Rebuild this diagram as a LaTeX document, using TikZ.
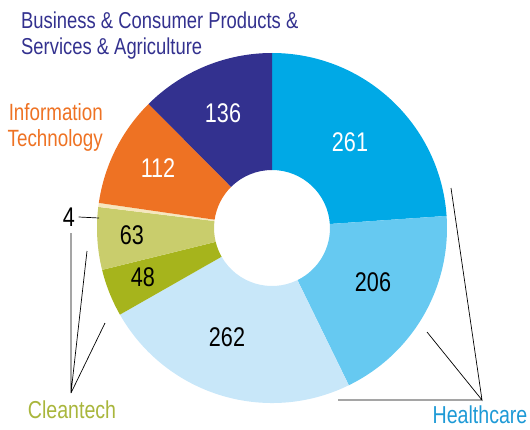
\documentclass[tikz,border=0pt]{standalone}
\usepackage{fontspec}
\setmainfont{Liberation Sans}[FakeStretch=0.8]
\usepackage{tikz}
\usetikzlibrary{positioning}
\definecolor{hcdark}{HTML}{00A9E6}
\definecolor{hcmid}{HTML}{66C9F1}
\definecolor{hclight}{HTML}{C8E7F9}
\definecolor{ctdark}{HTML}{A6B41C}
\definecolor{ctlight}{HTML}{C9CD6C}
\definecolor{ctpale}{HTML}{F6E7BF}
\definecolor{itorange}{HTML}{EE7223}
\definecolor{bcnavy}{HTML}{33318F}
\definecolor{hctext}{HTML}{1E9AD6}
\definecolor{cttext}{HTML}{A9B63C}
\tikzset{
  val/.style={font=\fontsize{27}{30}\selectfont},
  lead/.style={black,line width=0.7pt}
}

\begin{document}
\begin{tikzpicture}[x=1pt,y=1pt]
   \useasboundingbox (0,0) rectangle (530,429);
   % donut, clockwise from the top
   \begin{scope}[shift={(272,201)}]
   \foreach \a/\b/\c in {90/3.96/hcdark, 3.96/-63.96/hcmid, -63.96/-150.33/hclight,
        -150.33/-166.15/ctdark, -166.15/-186.92/ctlight, -186.92/-188.24/ctpale,
        -188.24/-225.16/itorange, -225.16/-270/bcnavy}
     \fill[\c] (\a:58pt) arc[start angle=\a, end angle=\b, radius=58pt]
        -- (\b:175pt) arc[start angle=\b, end angle=\a, radius=175pt] -- cycle;
   \end{scope}

   \node[val,white] (n_136) at (223,316) {136};
   \node[val,white] (n_261) at (350,287) {261};
   \node[val,white] (n_112) at (158,261) {112};
   \node[val] (n_63)  at (132,194) {63};
   \node[val] (n_48)  at (143,152) {48};
   \node[val] (n_206) at (373,147) {206};
   \node[val] (n_262) at (227,92)  {262};
   \node[val] (n_4)   at (69,212)  {4};

   \node[anchor=base west,text=bcnavy,align=left,inner sep=1pt,font=\fontsize{23}{26}\selectfont]
      (l_bc) at (20,374) {Business \& Consumer Products \&\\Services \& Agriculture};
   \node[anchor=base east,text=itorange,align=right,inner sep=1pt,font=\fontsize{23.5}{26}\selectfont]
      (l_it) at (104,282) {Information\\Technology};
   \node[text=cttext,inner sep=1pt,font=\fontsize{24.5}{28}\selectfont] (l_ct) at (72,19) {Cleantech};
   \node[text=hctext,inner sep=1pt,font=\fontsize{24.5}{28}\selectfont] (l_hc) at (480,14) {Healthcare};

   % leader lines
   \coordinate (c_4) at (99,211);
   \coordinate (ct) at (71,36);
   \coordinate (ct_a) at (71,196);
   \coordinate (ct_b) at (87,178);
   \coordinate (ct_c) at (105,106);
   \coordinate (hc) at (482,29);
   \coordinate (hc_a) at (451,241);
   \coordinate (hc_b) at (427,97);
   \coordinate (hc_c) at (338,29);
   \draw[lead] (n_4.east) -- (c_4);
   \draw[lead] (ct_a) -- (ct) -- (ct_b) (ct) -- (ct_c);
   \draw[lead] (hc_a) -- (hc) -- (hc_b) (hc) -- (hc_c);
\end{tikzpicture}
\end{document}
